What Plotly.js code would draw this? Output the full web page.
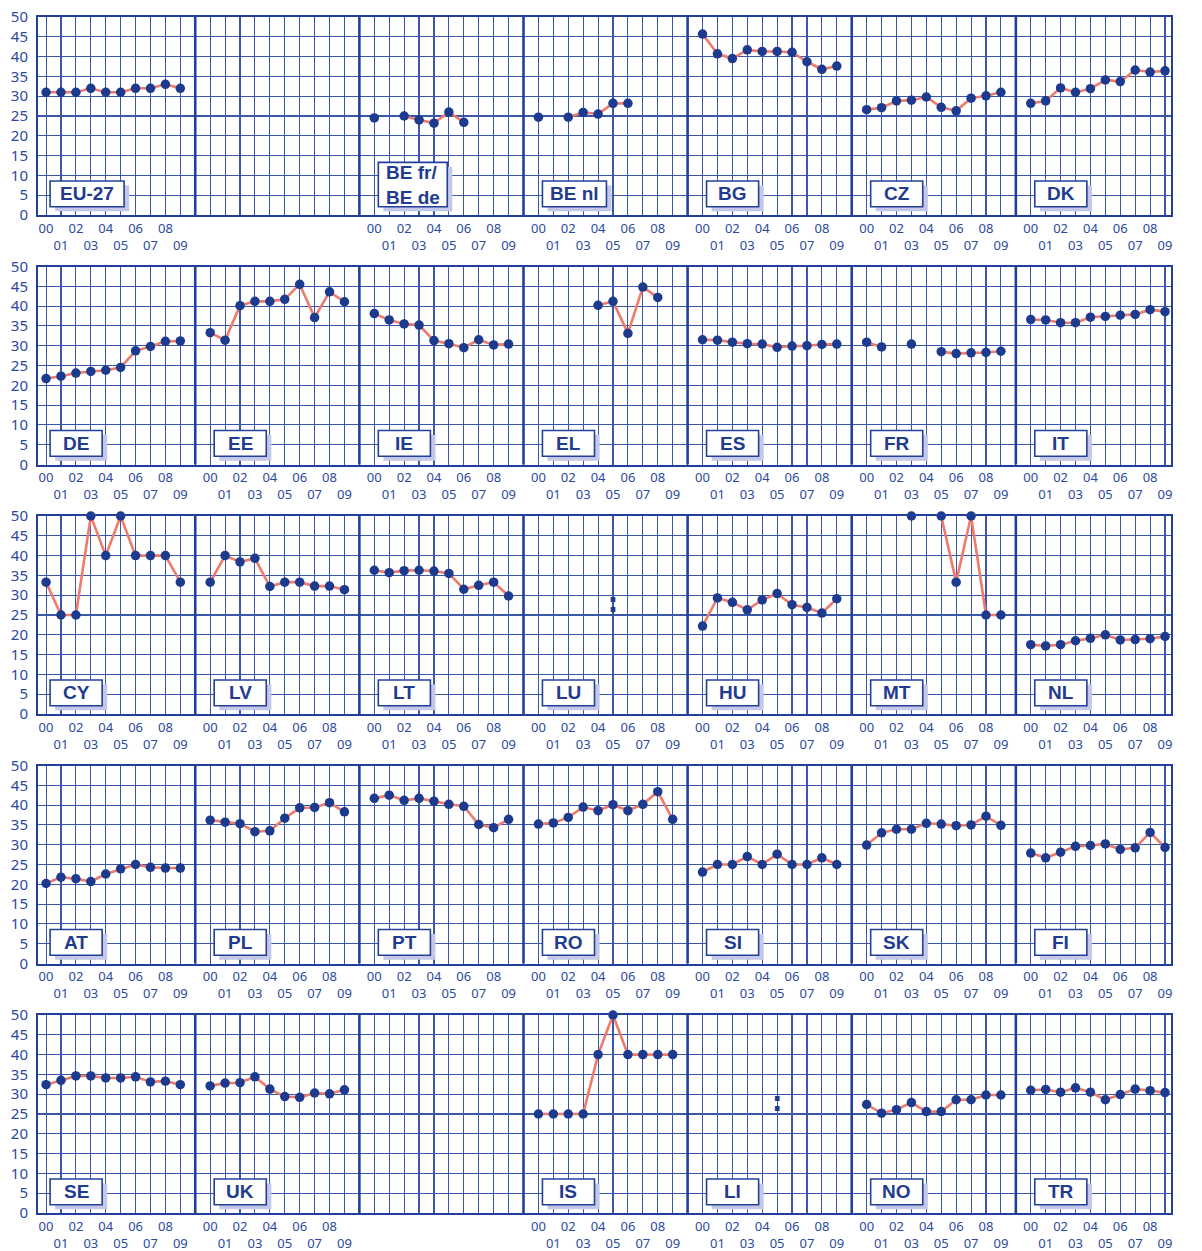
<!DOCTYPE html>
<html><head><meta charset="utf-8">
<script src="https://cdn.plot.ly/plotly-3.0.1.min.js"></script>
<style>html,body{margin:0;padding:0;background:#fff}#chart{width:1202px;height:1251px}</style>
</head><body><div id="chart"></div>
<script>
// ---------- data ----------
const years = ['00','01','02','03','04','05','06','07','08','09'];
const yTicks = [0,5,10,15,20,25,30,35,40,45,50];

const row1 = ['EU-27', '', 'BE fr/BE de', 'BE nl', 'BG', 'CZ', 'DK'];
const row2 = ['DE', 'EE', 'IE', 'EL', 'ES', 'FR', 'IT'];
const row3 = ['CY', 'LV', 'LT', 'LU', 'HU', 'MT', 'NL'];
const row4 = ['AT', 'PL', 'PT', 'RO', 'SI', 'SK', 'FI'];
const row5 = ['SE', 'UK', '', 'IS', 'LI', 'NO', 'TR'];

const EU27 = [31, 31, 31, 32, 31, 31, 32, 32, 33, 32];
const BEfr = [24.5, null, 25.0, 24.0, 23.2, 26.0, 23.4, null, null, null];
const BEnl = [24.7, null, 24.7, 25.9, 25.5, 28.2, 28.2, null, null, null];
const BG = [45.7, 40.7, 39.5, 41.7, 41.3, 41.3, 41.1, 38.7, 36.8, 37.6];
const CZ = [26.6, 27.1, 28.8, 29.0, 29.8, 27.2, 26.3, 29.5, 30.1, 31.0];
const DK = [28.2, 28.8, 32.1, 31.0, 31.9, 34.1, 33.7, 36.6, 36.1, 36.4];
const DE = [21.7, 22.3, 23.1, 23.5, 23.8, 24.5, 28.7, 29.8, 31.1, 31.2];
const EE = [33.3, 31.4, 40.1, 41.2, 41.2, 41.7, 45.5, 37.1, 43.6, 41.1];
const IE = [38.1, 36.5, 35.5, 35.2, 31.3, 30.5, 29.5, 31.5, 30.2, 30.4];
const EL = [null, null, null, null, 40.2, 41.2, 33.1, 44.8, 42.2, null];
const ES = [31.5, 31.4, 30.9, 30.5, 30.4, 29.6, 29.9, 30.0, 30.3, 30.4];
const FR = [30.9, 29.7, null, 30.4, null, 28.5, 28.0, 28.2, 28.3, 28.6];
const IT = [36.6, 36.5, 35.8, 35.8, 37.2, 37.4, 37.7, 37.9, 39.1, 38.6];
const CY = [33.3, 25, 25, 50, 40, 50, 40, 40, 40, 33.3];
const LV = [33.3, 40, 38.4, 39.3, 32.2, 33.3, 33.3, 32.3, 32.3, 31.4];
const LT = [36.3, 35.7, 36.2, 36.3, 36.1, 35.5, 31.5, 32.5, 33.3, 29.8];
const LU = [null, null, null, null, null, null, null, null, null, null];
const HU = [22.2, 29.3, 28.2, 26.3, 28.8, 30.4, 27.6, 26.9, 25.5, 29.1];
const MT = [null, null, null, 50, null, 50, 33.3, 50, 25, 25];
const NL = [17.5, 17.2, 17.5, 18.5, 19.1, 20.0, 18.7, 18.8, 19.0, 19.6];
const AT = [20.2, 21.8, 21.4, 20.7, 22.6, 23.9, 25.0, 24.3, 24.1, 24.1];
const PL = [36.2, 35.7, 35.3, 33.3, 33.5, 36.7, 39.3, 39.4, 40.6, 38.3];
const PT = [41.7, 42.5, 41.2, 41.7, 41.0, 40.2, 39.7, 35.1, 34.3, 36.4];
const RO = [35.2, 35.5, 36.9, 39.5, 38.6, 40.1, 38.6, 40.2, 43.4, 36.4];
const SI = [23.1, 25, 25, 27, 25, 27.6, 25, 25, 26.7, 25];
const SK = [29.9, 33.0, 33.9, 33.9, 35.4, 35.2, 34.8, 35.0, 37.2, 34.9];
const FI = [27.9, 26.7, 28.1, 29.6, 29.8, 30.2, 28.8, 29.2, 33.1, 29.3];
const SE = [32.4, 33.5, 34.6, 34.6, 34.1, 34.1, 34.4, 33.1, 33.3, 32.4];
const UK = [32.1, 32.8, 32.9, 34.4, 31.3, 29.4, 29.2, 30.3, 30.1, 31.1];
const IS = [25, 25, 25, 25, 40, 50, 40, 40, 40, 40];
const LI = [null, null, null, null, null, null, null, null, null, null];
const NO = [27.4, 25.2, 26.1, 27.9, 25.6, 25.6, 28.6, 28.6, 29.8, 29.8];
const TR = [31.0, 31.2, 30.5, 31.6, 30.5, 28.6, 29.9, 31.3, 30.9, 30.4];

// ':' (not available) markers
const naLabels = ['LU', 'LI'];
const naYear = '05';
const naLevel = 27.5;

// ---------- build ----------
const rows = [row1, row2, row3, row4, row5];
const seriesOf = {
  'EU-27': EU27, 'BE fr/BE de': BEfr, 'BE nl': BEnl, 'BG': BG, 'CZ': CZ, 'DK': DK,
  'DE': DE, 'EE': EE, 'IE': IE, 'EL': EL, 'ES': ES, 'FR': FR, 'IT': IT,
  'CY': CY, 'LV': LV, 'LT': LT, 'LU': LU, 'HU': HU, 'MT': MT, 'NL': NL,
  'AT': AT, 'PL': PL, 'PT': PT, 'RO': RO, 'SI': SI, 'SK': SK, 'FI': FI,
  'SE': SE, 'UK': UK, 'IS': IS, 'LI': LI, 'NO': NO, 'TR': TR
};

const DARK = '#1d3b8e', TEXT = '#2b4a9d', GRID = '#3a56a8', FRAME = '#22409a';
const LINE = '#ef7b6c', SHADOW = '#c4c7e7';
const NP = 7, SPAN = 11;
const uOf = (p, i) => p * SPAN + 1 + i;
const xRange = [0.46, 76.4];

const W = 1202, H = 1251, MT_ = 17, MB = 38, ROWSTEP = 249.5;
const plotH = H - MT_ - MB;

const traces = [];
const layout = {
  width: W, height: H,
  margin: {l: 38, r: 31, t: MT_, b: MB},
  paper_bgcolor: '#ffffff', plot_bgcolor: '#ffffff',
  showlegend: false,
  font: {family: 'Noto Sans, Open Sans, sans-serif', color: TEXT},
  shapes: [], annotations: []
};

const boxWidth = lab => lab === 'EU-27' ? 4.96 : lab === 'BE fr/BE de' ? 4.62 : lab === 'BE nl' ? 4.29 : 3.49;

rows.forEach((panels, r) => {
  const n = r + 1;
  const xId = n === 1 ? 'x' : 'x' + n;
  const yId = n === 1 ? 'y' : 'y' + n;
  const topPx = 17 + ROWSTEP * r, botPx = 215 + ROWSTEP * r;
  const top = (H - MB - topPx) / plotH;
  const bot = (H - MB - botPx) / plotH;

  // x labels: even years on line 1, odd years on line 2 (only under panels with data)
  const tv = [], tt = [];
  panels.forEach((lab, p) => {
    if (!lab) return;
    years.forEach((yr, i) => {
      tv.push(uOf(p, i));
      tt.push(i % 2 === 0 ? yr : '\u00a0<br>' + yr);
    });
  });
  layout['xaxis' + (n === 1 ? '' : n)] = {
    domain: [0, 1], range: xRange, anchor: yId, tickmode: 'array', tickvals: tv, ticktext: tt,
    tickangle: 0,
    showgrid: true, gridcolor: GRID, gridwidth: 1.1, zeroline: false,
    minor: {tickmode: 'linear', tick0: 0, dtick: 1, showgrid: true, gridcolor: GRID, gridwidth: 1.1, ticks: ''},
    showline: true, linecolor: FRAME, linewidth: 2, mirror: true, ticks: '',
    tickfont: {size: 13, color: TEXT}, ticklabelstandoff: 0, fixedrange: true
  };
  layout['yaxis' + (n === 1 ? '' : n)] = {
    domain: [bot, top], range: [0, 50], anchor: xId, tickmode: 'array', tickvals: yTicks,
    showgrid: true, gridcolor: GRID, gridwidth: 1.1, zeroline: false,
    showline: true, linecolor: FRAME, linewidth: 2, mirror: true, ticks: '',
    tickfont: {size: 15, color: TEXT}, ticklabelstandoff: 5, fixedrange: true
  };
  layout['yaxis' + (n + 5)] = {
    overlaying: yId, anchor: xId, side: 'right', range: [0, 50], tickmode: 'array', tickvals: yTicks,
    showgrid: false, zeroline: false, showline: false, ticks: '',
    tickfont: {size: 15, color: TEXT}, ticklabelstandoff: 11, fixedrange: true
  };

  // thick panel boundaries
  for (let p = 1; p < NP; p++) {
    layout.shapes.push({type: 'line', xref: xId, yref: yId + ' domain', x0: p * SPAN, x1: p * SPAN, y0: 0, y1: 1,
      line: {color: FRAME, width: 2.6}});
  }

  panels.forEach((lab, p) => {
    if (!lab) return;
    const vals = seriesOf[lab];
    traces.push({
      type: 'scatter', mode: 'lines+markers', xaxis: xId, yaxis: yId,
      x: years.map((_, i) => uOf(p, i)), y: vals, connectgaps: false,
      line: {color: LINE, width: 2.6}, marker: {color: DARK, size: 9.5},
      hoverinfo: 'skip', cliponaxis: false
    });
    if (naLabels.includes(lab)) {
      traces.push({
        type: 'scatter', mode: 'text', xaxis: xId, yaxis: yId,
        x: [uOf(p, years.indexOf(naYear))], y: [naLevel], text: [':'],
        textposition: 'middle center', cliponaxis: false,
        textfont: {family: 'DejaVu Sans, sans-serif', size: 26, color: DARK, weight: 'bold'}, hoverinfo: 'skip'
      });
    }
    // label box
    const two = lab.includes('/');
    const bw = boxWidth(lab);
    const x0 = uOf(p, 0) + 0.27, x1 = x0 + bw;
    const y0 = 2.1, y1 = two ? 13.3 : 8.6;
    layout.shapes.push({type: 'rect', xref: xId, yref: yId, x0: x0 + 0.34, x1: x1 + 0.34, y0: y0 - 1.15, y1: y1 - 1.15,
      fillcolor: SHADOW, line: {width: 0}});
    layout.shapes.push({type: 'rect', xref: xId, yref: yId, x0: x0, x1: x1, y0: y0, y1: y1,
      fillcolor: '#ffffff', line: {color: FRAME, width: 1.6}});
    layout.annotations.push({
      xref: xId, yref: yId, x: (x0 + x1) / 2, y: (y0 + y1) / 2, showarrow: false,
      text: two ? lab.replace('/', '/<br>').replace('/<br> ', '/<br>') : lab,
      align: two ? 'left' : 'center',
      font: {family: 'Liberation Sans, Arial, sans-serif', size: 19, color: '#1f3c8f', weight: 'bold'}
    });
  });
});

Plotly.newPlot('chart', traces, layout, {staticPlot: true, displayModeBar: false});
</script></body></html>
